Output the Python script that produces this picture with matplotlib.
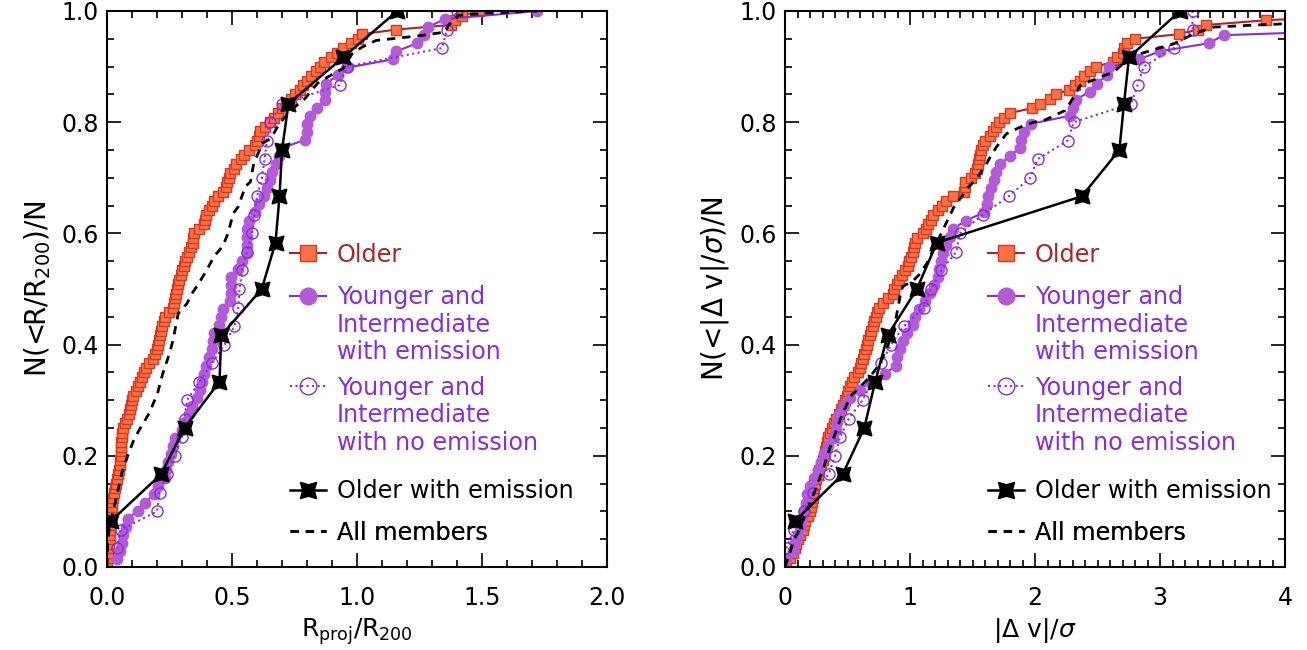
import matplotlib.pyplot as plt
import numpy as np
from matplotlib.lines import Line2D
from matplotlib.ticker import MultipleLocator, FormatStrFormatter

# sorted values of each group (cumulative fraction = rank / N)
older_r = [
    0.000, 0.002, 0.004, 0.006, 0.008, 0.010, 0.011, 0.012, 0.013, 0.014,
    0.015, 0.016, 0.018, 0.020, 0.024, 0.028, 0.032, 0.036, 0.040, 0.044,
    0.047, 0.050, 0.052, 0.054, 0.055, 0.056, 0.057, 0.058, 0.060, 0.065,
    0.072, 0.080, 0.086, 0.092, 0.096, 0.099, 0.105, 0.115, 0.125, 0.132,
    0.138, 0.146, 0.155, 0.168, 0.182, 0.192, 0.200, 0.204, 0.207, 0.210,
    0.215, 0.220, 0.226, 0.232, 0.248, 0.262, 0.266, 0.270, 0.275, 0.280,
    0.285, 0.290, 0.295, 0.300, 0.306, 0.312, 0.320, 0.328, 0.336, 0.342,
    0.346, 0.350, 0.370, 0.388, 0.392, 0.396, 0.410, 0.422, 0.430, 0.445,
    0.462, 0.476, 0.482, 0.488, 0.494, 0.508, 0.518, 0.535, 0.548, 0.570,
    0.594, 0.600, 0.606, 0.612, 0.630, 0.650, 0.668, 0.685, 0.700, 0.718,
    0.735, 0.752, 0.770, 0.785, 0.800, 0.818, 0.835, 0.852, 0.870, 0.895,
    0.920, 0.945, 0.975, 1.005, 1.020, 1.158, 1.378, 1.392, 1.420, 1.490,
]
young_em_r = [
    0.041, 0.051, 0.058, 0.065, 0.075, 0.085, 0.122, 0.150, 0.188, 0.202,
    0.230, 0.234, 0.245, 0.255, 0.264, 0.271, 0.298, 0.312, 0.326, 0.340,
    0.360, 0.374, 0.381, 0.388, 0.395, 0.408, 0.422, 0.425, 0.429, 0.450,
    0.457, 0.463, 0.491, 0.498, 0.498, 0.498, 0.525, 0.539, 0.560, 0.560,
    0.560, 0.560, 0.567, 0.594, 0.608, 0.629, 0.640, 0.650, 0.660, 0.675,
    0.690, 0.700, 0.791, 0.798, 0.798, 0.810, 0.842, 0.872, 0.872, 0.876,
    0.924, 0.966, 1.144, 1.158, 1.241, 1.268, 1.285, 1.351, 1.722,
]
young_noem_r = [
    0.040, 0.054, 0.200, 0.210, 0.240, 0.270, 0.300, 0.310, 0.320, 0.370,
    0.420, 0.470, 0.510, 0.525, 0.530, 0.540, 0.560, 0.580, 0.590, 0.600,
    0.620, 0.630, 0.640, 0.650, 0.700, 0.930, 0.960, 1.340, 1.360, 1.400,
]
older_em_r = [0.017, 0.216, 0.310, 0.450, 0.457, 0.619, 0.674, 0.690, 0.700,
              0.726, 0.945, 1.161]
all_r_x = [0.0, 0.003, 0.012, 0.025, 0.04, 0.06, 0.085, 0.106, 0.127, 0.168,
           0.202, 0.223, 0.25, 0.264, 0.285, 0.32, 0.34, 0.367, 0.40, 0.429,
           0.463, 0.484, 0.505, 0.525, 0.553, 0.574, 0.587, 0.622, 0.656, 0.69,
           0.725, 0.744, 0.787, 0.842, 0.897, 0.945, 0.98, 1.02, 1.076, 1.241,
           1.351, 1.365, 1.406, 1.516, 1.72]
all_r_y = [0.0, 0.047, 0.08, 0.10, 0.13, 0.17, 0.203, 0.227, 0.245, 0.276,
           0.312, 0.348, 0.384, 0.408, 0.456, 0.474, 0.492, 0.51, 0.535, 0.559,
           0.577, 0.60, 0.636, 0.648, 0.684, 0.693, 0.726, 0.762, 0.771, 0.798,
           0.816, 0.825, 0.84, 0.87, 0.885, 0.897, 0.923, 0.935, 0.947, 0.955,
           0.962, 0.974, 0.992, 0.996, 1.0]

older_v = [
    0.01, 0.04, 0.06, 0.08, 0.09, 0.10, 0.12, 0.14, 0.15, 0.163,
    0.18, 0.20, 0.21, 0.215, 0.22, 0.225, 0.229, 0.24, 0.25, 0.262,
    0.275, 0.29, 0.30, 0.31, 0.318, 0.326, 0.335, 0.345, 0.36, 0.375,
    0.39, 0.41, 0.428, 0.445, 0.465, 0.482, 0.492, 0.505, 0.522, 0.532,
    0.555, 0.58, 0.602, 0.61, 0.62, 0.635, 0.645, 0.655, 0.665, 0.68,
    0.69, 0.70, 0.712, 0.725, 0.738, 0.755, 0.78, 0.82, 0.86, 0.875,
    0.895, 0.915, 0.935, 0.96, 0.98, 0.995, 1.008, 1.02, 1.028, 1.04,
    1.058, 1.105, 1.125, 1.145, 1.165, 1.185, 1.22, 1.255, 1.29, 1.34,
    1.43, 1.436, 1.442, 1.49, 1.522, 1.532, 1.542, 1.55, 1.56, 1.57,
    1.585, 1.60, 1.638, 1.665, 1.688, 1.712, 1.75, 1.80, 1.975, 2.04,
    2.12, 2.17, 2.27, 2.32, 2.36, 2.39, 2.44, 2.49, 2.62, 2.655,
    2.70, 2.71, 2.735, 2.80, 3.15, 3.30, 3.37, 3.85, 4.6, 5.3,
]
young_em_v = [
    0.011, 0.06, 0.08, 0.105, 0.12, 0.135, 0.15, 0.165, 0.176, 0.20,
    0.23, 0.26, 0.29, 0.315, 0.34, 0.38, 0.408, 0.416, 0.429, 0.47,
    0.52, 0.60, 0.68, 0.80, 0.89, 0.895, 0.92, 0.94, 0.975, 1.02,
    1.04, 1.07, 1.12, 1.16, 1.19, 1.22, 1.235, 1.245, 1.26, 1.29,
    1.32, 1.345, 1.45, 1.59, 1.615, 1.625, 1.65, 1.672, 1.69, 1.72,
    1.80, 1.877, 1.89, 1.915, 1.965, 2.28, 2.30, 2.325, 2.44, 2.495,
    2.575, 2.59, 2.83, 3.00, 3.39, 3.51, 5.4, 5.8, 6.2,
]
young_noem_v = [
    0.01, 0.07, 0.15, 0.22, 0.35, 0.40, 0.44, 0.51, 0.62, 0.70,
    0.77, 0.85, 0.95, 1.11, 1.17, 1.25, 1.37, 1.40, 1.58, 1.79,
    1.96, 2.02, 2.26, 2.31, 2.77, 2.82, 2.87, 3.11, 3.26, 3.26,
]
older_em_v = [0.083, 0.461, 0.634, 0.722, 0.821, 1.055, 1.215, 2.374, 2.675,
              2.712, 2.752, 3.16]
all_v_x = [0.0, 0.07, 0.12, 0.23, 0.31, 0.36, 0.44, 0.52, 0.60, 0.68,
           0.76, 0.82, 0.88, 0.92, 0.94, 1.03, 1.07, 1.135, 1.25, 1.35,
           1.41, 1.455, 1.535, 1.60, 1.64, 1.69, 1.77, 1.88, 1.99, 2.07,
           2.24, 2.31, 2.36, 2.52, 2.63, 2.73, 2.84, 3.11, 3.27, 3.43,
           3.69, 4.0]
all_v_y = [0.0, 0.047, 0.071, 0.131, 0.179, 0.215, 0.264, 0.306, 0.324, 0.342,
           0.366, 0.396, 0.438, 0.486, 0.504, 0.516, 0.525, 0.546, 0.60, 0.647,
           0.665, 0.68, 0.70, 0.72, 0.737, 0.755, 0.779, 0.791, 0.80, 0.803,
           0.821, 0.845, 0.866, 0.881, 0.89, 0.911, 0.923, 0.941, 0.959, 0.971,
           0.974, 0.977]

RED_LINE = "#b22222"
RED_FACE = "#ff7043"
PURPLE = "#8a2be2"
PURPLE_FACE = "#b35ad9"

plt.rcParams["font.family"] = ["DejaVu Sans"]
plt.rcParams["mathtext.fontset"] = "dejavusans"


def cumulative(values):
    values = np.sort(np.asarray(values))
    return values, np.arange(1, len(values) + 1) / len(values)


def styles():
    older = dict(color=RED_LINE, lw=1.5, marker="s", ms=7.5,
                 mfc=RED_FACE, mec="#d23a22", mew=1.0)
    young_em = dict(color=PURPLE, lw=1.5, marker="o", ms=7.5,
                    mfc=PURPLE_FACE, mec=PURPLE_FACE)
    young_noem = dict(color=PURPLE, lw=1.5, ls=":", marker="o", ms=8,
                      mfc="none", mec=PURPLE, mew=1.0)
    older_em = dict(color="black", lw=1.8, marker=(4, 1, 45), ms=15)
    all_m = dict(color="black", lw=2.0, ls=(0, (3, 2.5)))
    return older, young_em, young_noem, older_em, all_m


def add_key(ax, handle, lines, color, x, y, scale=1.0):
    blank = Line2D([], [], ls="none")
    handles = [handle] + [blank] * (len(lines) - 1)
    leg = ax.legend(handles, lines, loc="upper left", bbox_to_anchor=(x, y),
                    frameon=False, borderpad=0, borderaxespad=0,
                    handlelength=1.5, handletextpad=0.45, labelspacing=0.15,
                    fontsize=17.2, labelcolor=color, markerscale=scale)
    ax.add_artist(leg)


def draw_panel(ax, older, young_em, young_noem, older_em, all_x, all_y, key_x):
    s_old, s_yem, s_ynoem, s_oem, s_all = styles()
    ax.plot(*cumulative(older), **s_old)
    ax.plot(*cumulative(young_em), **s_yem)
    ax.plot(*cumulative(young_noem), **s_ynoem)
    ax.plot(all_x, all_y, **s_all)
    ax.plot(*cumulative(older_em), **s_oem)

    ax.set_ylim(0, 1.0)
    ax.yaxis.set_major_locator(MultipleLocator(0.2))
    ax.yaxis.set_minor_locator(MultipleLocator(0.05))
    ax.yaxis.set_major_formatter(FormatStrFormatter("%.1f"))
    ax.tick_params(which="both", direction="in", top=True, right=True,
                   width=1.2, labelsize=17)
    ax.tick_params(axis="x", which="major", pad=14)
    ax.tick_params(axis="y", which="major", pad=6)
    ax.tick_params(which="major", length=10)
    ax.tick_params(which="minor", length=5)
    for sp in ax.spines.values():
        sp.set_linewidth(1.5)

    off = 0.020
    add_key(ax, Line2D([], [], **s_old), ["Older"], RED_LINE,
            key_x, 0.563 + off, 1.6)
    add_key(ax, Line2D([], [], **s_yem),
            ["Younger and", "Intermediate", "with emission"], PURPLE,
            key_x, 0.487 + off, 1.6)
    add_key(ax, Line2D([], [], **s_ynoem),
            ["Younger and", "Intermediate", "with no emission"], PURPLE,
            key_x, 0.324 + off, 1.5)
    add_key(ax, Line2D([], [], **s_oem), ["Older with emission"], "black",
            key_x, 0.138 + off, 1.1)
    add_key(ax, Line2D([], [], **s_all), ["All members"], "black",
            key_x, 0.063 + off)


fig = plt.figure(figsize=(13.07, 6.5), dpi=100)
ax1 = fig.add_axes([107 / 1307, 83 / 650, 500 / 1307, 556 / 650])
ax2 = fig.add_axes([785 / 1307, 83 / 650, 500 / 1307, 556 / 650])

draw_panel(ax1, older_r, young_em_r, young_noem_r, older_em_r,
           all_r_x, all_r_y, 0.366)
ax1.set_xlim(0, 2.0)
ax1.xaxis.set_major_locator(MultipleLocator(0.5))
ax1.xaxis.set_minor_locator(MultipleLocator(0.1))
ax1.xaxis.set_major_formatter(FormatStrFormatter("%.1f"))
ax1.set_xlabel(r"R$_{\mathrm{proj}}$/R$_{200}$", fontsize=18, labelpad=4)
ax1.set_ylabel(r"N(<R/R$_{200}$)/N", fontsize=20, labelpad=6)

draw_panel(ax2, older_v, young_em_v, young_noem_v, older_em_v,
           all_v_x, all_v_y, 0.406)
ax2.set_xlim(0, 4)
ax2.xaxis.set_major_locator(MultipleLocator(1))
ax2.xaxis.set_minor_locator(MultipleLocator(0.1))
ax2.xaxis.set_major_formatter(FormatStrFormatter("%d"))
ax2.set_xlabel(r"|Δ v|/$\sigma$", fontsize=18, labelpad=4)
ax2.set_ylabel(r"N(<|Δ v|/$\sigma$)/N", fontsize=20, labelpad=6)

fig.savefig("out.png", dpi=100)
